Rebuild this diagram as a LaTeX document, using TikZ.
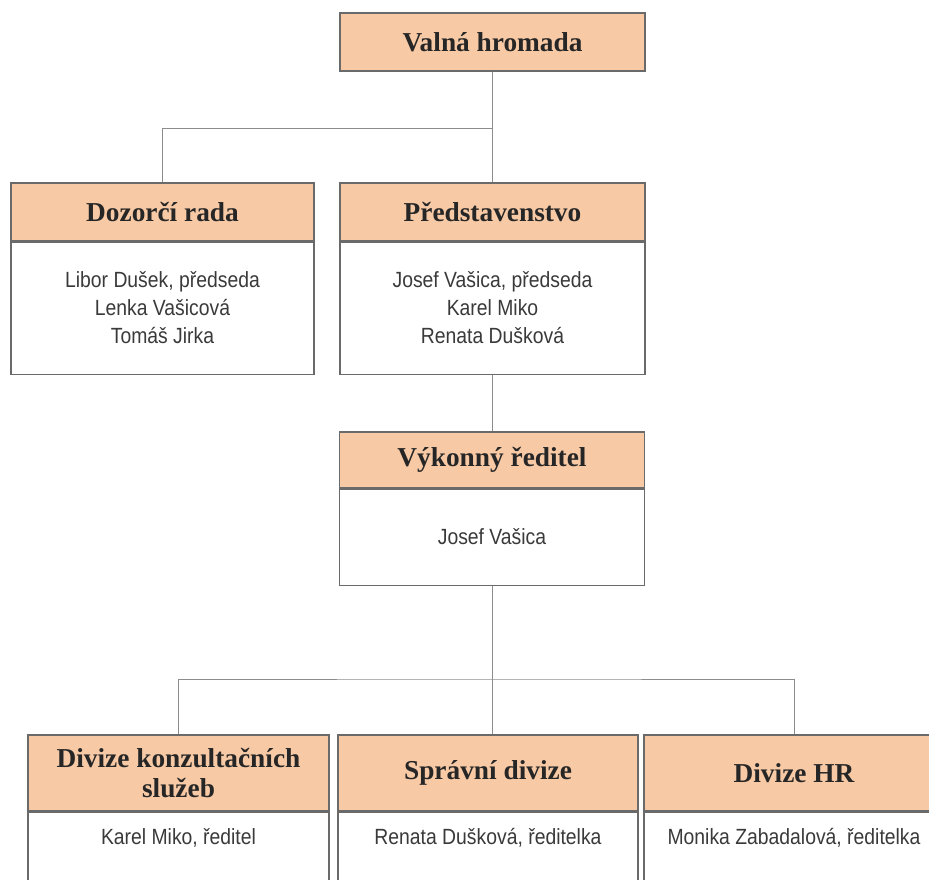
\documentclass[tikz,border=0pt]{standalone}
\usepackage{fontspec}
\newfontfamily\headfont{Liberation Serif}
\newfontfamily\namefont[FakeStretch=0.88]{Liberation Sans}
\definecolor{headfill}{HTML}{F7C9A5}
\definecolor{boxline}{HTML}{6A6A6A}
\definecolor{wire}{HTML}{8C8C8C}
\definecolor{nametext}{HTML}{3A3A3A}
\tikzset{
  head/.style={draw=boxline, line width=0.8pt, fill=headfill, inner sep=0pt,
    align=center, font=\headfont\bfseries\fontsize{20.5}{22.5}\selectfont,
    text=black!85, minimum width=#1*0.75pt},
  body/.style={draw=boxline, line width=0.8pt, fill=white, inner sep=0pt,
    align=center, font=\namefont\fontsize{16.5}{21}\selectfont,
    text=nametext, minimum width=#1*0.75pt},
  wire/.style={draw=wire, line width=0.6pt}
}
\begin{document}
\begin{tikzpicture}[x=0.75pt, y=-0.75pt]
  \clip (0,0) rectangle (929,879);
  \fill[white] (0,0) rectangle (929,879);

  % top
  \node[head=305, minimum height=43.5pt] (valna) at (492.5,42) {Valná hromada};

  % second row
  \node[head=303, minimum height=43.5pt] (dozorci) at (162.5,212) {Dozorčí rada};
  \node[body=303, minimum height=99pt, anchor=north] (dozorcibody) at (dozorci.south)
    {Libor Dušek, předseda\\Lenka Vašicová\\Tomáš Jirka};
  \node[head=305, minimum height=43.5pt] (predst) at (492.5,212) {Představenstvo};
  \node[body=305, minimum height=99pt, anchor=north] (predstbody) at (predst.south)
    {Josef Vašica, předseda\\Karel Miko\\Renata Dušková};

  % third row
  \node[head=305, minimum height=42pt] (vykonny) at (492,460) {Výkonný ředitel};
  \node[body=305, minimum height=72pt, anchor=north] (vykonnybody) at (vykonny.south)
    {Josef Vašica};

  % divisions
  \node[head=301, minimum height=57pt] (konz) at (178.5,773)
    {Divize konzultačních\\[-0.5pt]služeb};
  \node[body=301, text height=24.5pt, text depth=80pt, anchor=north] (konzbody) at (konz.south)
    {Karel Miko, ředitel};
  \node[head=300, minimum height=57pt] (spravni) at (488,773) {Správní divize};
  \node[body=300, text height=24.5pt, text depth=80pt, anchor=north] (spravnibody) at (spravni.south)
    {Renata Dušková, ředitelka};
  \node[head=300, minimum height=57pt] (hr) at (794,773) {Divize HR};
  \node[body=300, text height=24.5pt, text depth=80pt, anchor=north] (hrbody) at (hr.south)
    {Monika Zabadalová, ředitelka};

  % connectors
  \coordinate (j1) at (valna.south |- 0,128);
  \coordinate (j2) at (vykonnybody.south |- 0,679);
  \draw[wire] (valna.south) -- (predst.north);
  \draw[wire] (j1) -| (dozorci.north);
  \draw[wire] (predstbody.south) -- (predstbody.south |- vykonny.north);
  \draw[wire] (vykonnybody.south) -- (vykonnybody.south |- spravni.north);
  \draw[wire] (konz.north) |- (j2) -| (hr.north);
\end{tikzpicture}
\end{document}
